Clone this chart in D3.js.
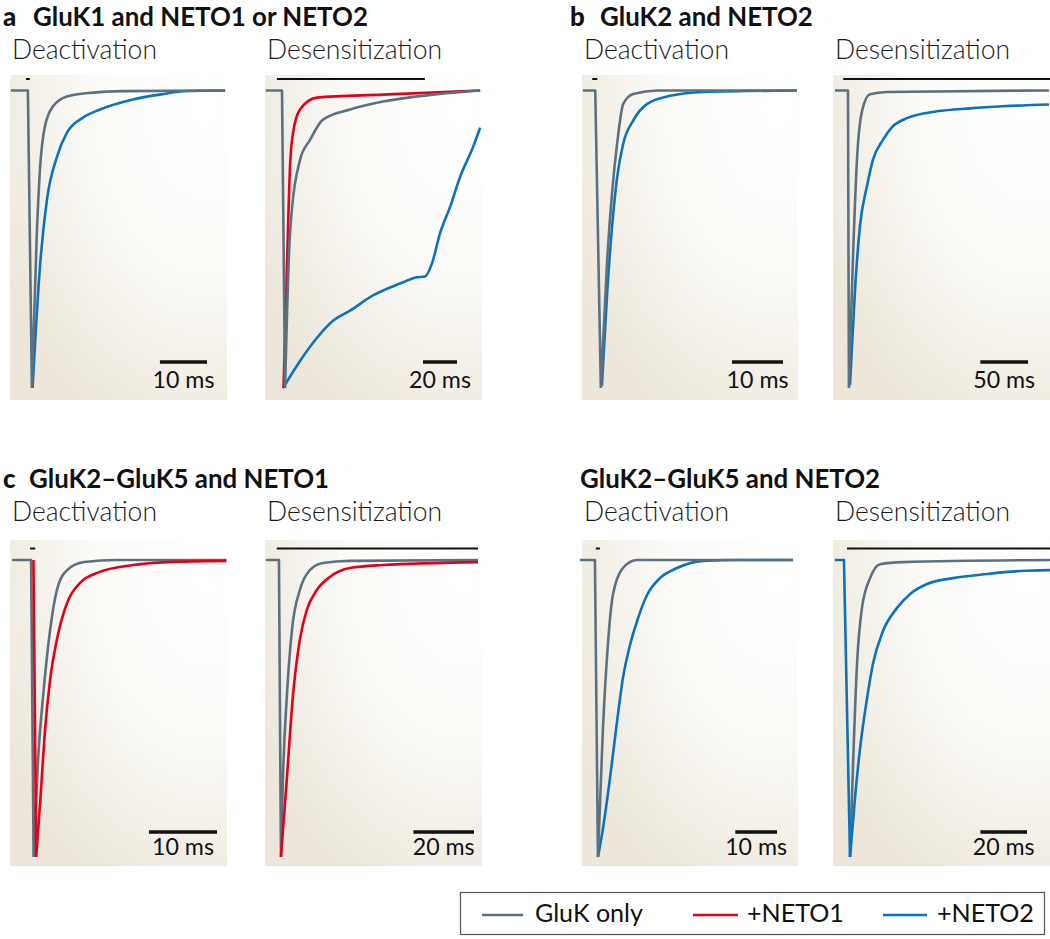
<!DOCTYPE html>
<html><head><meta charset="utf-8">
<script src="https://cdn.jsdelivr.net/npm/d3@7"></script>
<style>body{margin:0;background:#fff}svg{display:block}</style>
</head><body>
<svg id="chart" width="1050" height="939"></svg>
<script>
// ---------------- DATA ----------------
const panelLetters = ["a", "b", "c", ""];
const panelTitles = ["GluK1 and NETO1 or NETO2", "GluK2 and NETO2", "GluK2\u2013GluK5 and NETO1", "GluK2\u2013GluK5 and NETO2"];
const protocols = ["Deactivation", "Desensitization"];
const seriesNames = ["GluK only", "+NETO1", "+NETO2"];
const scaleBarMs = [10, 20, 10, 50, 10, 20, 10, 20];
const scaleBarLabels = ["10 ms", "20 ms", "10 ms", "50 ms", "10 ms", "20 ms", "10 ms", "20 ms"];
// visible time window of each trace panel (ms)
const timeWindows = [[-3.8, 42.3], [-10, 117.6], [-2.6, 39.8], [-15.7, 212], [-3.1, 28.8], [-4.6, 67], [-3.1, 48.7], [-4.7, 88.4]];
// glutamate application (ms)
const stimWindows = [[-0.4, 0.4], [-3, 84], [-0.6, 0.4], [-5, 212], [-0.15, 0.6], [-0.7, 65.7], [0.2, 1.2], [1.3, 88.4]];

// traces: [time (ms), current normalised to peak]
const aDeactGluK = [[-3.6,0],[0,0],[0.85,-1],[1.9,-0.48],[2.6,-0.257],[3.6,-0.122],[5.3,-0.054],[8.3,-0.02],[13.8,-0.007],[20,-0.002],[41.9,0]];
const aDeactNeto2 = [[1.0,-1],[2.55,-0.595],[4.04,-0.368],[6.17,-0.223],[8.3,-0.142],[11.7,-0.091],[15.3,-0.064],[22.3,-0.03],[29.6,-0.01],[33,-0.002],[41.9,0]];

const aDesensGluK = [[-9.5,0],[0,0],[1.8,-1],[4.7,-0.48],[10.6,-0.233],[16.5,-0.166],[24.1,-0.098],[40,-0.064],[59.4,-0.037],[88.8,-0.014],[116.5,0]];
const aDesensNeto1 = [[0.9,-1],[2.9,-0.595],[4.7,-0.257],[6.5,-0.142],[10.6,-0.064],[20.6,-0.024],[59.4,-0.014],[116.5,0]];
const aDesensNeto2 = [[0.6,-1],[10.6,-0.909],[20.6,-0.831],[30,-0.774],[40,-0.74],[53.5,-0.689],[69.4,-0.649],[79.4,-0.628],[84.1,-0.625],[88.2,-0.581],[92.9,-0.48],[98.8,-0.392],[104.7,-0.291],[112.4,-0.189],[116.5,-0.125]];

const bDeactGluK = [[-2.4,0],[0,0],[1.1,-1],[2.35,-0.567],[3.3,-0.344],[4.3,-0.178],[5.5,-0.045],[7.45,-0.012],[12.2,0],[39.6,0]];
const bDeactNeto2 = [[1.3,-0.993],[2.35,-0.677],[3.3,-0.458],[4.3,-0.291],[5.5,-0.178],[7.45,-0.101],[10.2,-0.045],[14.7,-0.018],[21.2,-0.005],[39.6,0]];

const bDesensGluK = [[-13.6,0],[0,0],[1,-1],[5.2,-0.568],[9.4,-0.236],[14.7,-0.07],[23,-0.013],[40.9,-0.005],[211,0]];
const bDesensNeto2 = [[2.1,-0.99],[7.3,-0.675],[12.6,-0.455],[19.9,-0.322],[26.2,-0.233],[36.7,-0.166],[46.2,-0.123],[61.9,-0.093],[93.4,-0.07],[128,-0.06],[162.6,-0.053],[211,-0.047]];

const cDeactGluK = [[-2.8,0],[0,0],[0.37,-1],[1.0,-0.681],[1.76,-0.46],[2.8,-0.235],[3.8,-0.101],[5.3,-0.034],[7.8,-0.007],[12.6,0],[28.7,0]];
const cDeactNeto1 = [[0.35,0],[0.75,-1],[1.4,-0.795],[2.06,-0.57],[2.8,-0.403],[3.8,-0.268],[5.3,-0.144],[7.2,-0.077],[10.1,-0.04],[15,-0.017],[20,-0.007],[28.7,-0.003]];

const cDesensGluK = [[-4.3,0],[0,0],[0.66,-1],[1.3,-0.738],[2.6,-0.46],[4.3,-0.235],[6.9,-0.101],[10.2,-0.034],[14.5,-0.01],[23.4,-0.003],[65.7,0]];
const cDesensNeto1 = [[0.66,-1],[2.6,-0.738],[4.6,-0.46],[6.9,-0.268],[9.2,-0.168],[12.5,-0.101],[16.8,-0.057],[23.4,-0.027],[34.3,-0.017],[65.7,-0.007]];

const dDeactGluK = [[-3.6,0],[0,0],[0.72,-1],[1.92,-0.568],[3.1,-0.287],[4.3,-0.118],[6.7,-0.027],[10.1,0],[47.5,0]];
const dDeactNeto2 = [[0.72,-1],[1.92,-0.905],[3.6,-0.736],[5.3,-0.544],[6.7,-0.399],[8.4,-0.287],[10.1,-0.206],[12.5,-0.118],[15.6,-0.061],[19.7,-0.027],[25.9,-0.003],[34.1,0],[47.5,0]];

const dDesensGluK = [[2.6,-1],[3.9,-0.689],[5.6,-0.351],[7.7,-0.162],[11.2,-0.061],[15.5,-0.014],[25.3,-0.007],[88.4,0]];
const dDesensNeto2 = [[-3.9,0],[0,0],[2.6,-1],[4.7,-0.804],[6.9,-0.635],[9.9,-0.466],[12.4,-0.351],[16.7,-0.24],[22.7,-0.162],[28.3,-0.115],[35.6,-0.081],[46.8,-0.061],[61.4,-0.047],[75.5,-0.037],[88.4,-0.034]];

// drawing order inside each panel (last is on top)
const panelTraces = [
  [["+NETO2", aDeactNeto2], ["GluK only", aDeactGluK]],
  [["+NETO2", aDesensNeto2], ["+NETO1", aDesensNeto1], ["GluK only", aDesensGluK]],
  [["+NETO2", bDeactNeto2], ["GluK only", bDeactGluK]],
  [["+NETO2", bDesensNeto2], ["GluK only", bDesensGluK]],
  [["GluK only", cDeactGluK], ["+NETO1", cDeactNeto1]],
  [["GluK only", cDesensGluK], ["+NETO1", cDesensNeto1]],
  [["+NETO2", dDeactNeto2], ["GluK only", dDeactGluK]],
  [["GluK only", dDesensGluK], ["+NETO2", dDesensNeto2]]
];

// ---------------- LAYOUT / STYLE ----------------
const colors = {"GluK only": "#5c7180", "+NETO1": "#e2001a", "+NETO2": "#0b72bb"};
const colX0 = [10, 265, 582, 833], colX1 = [227, 482, 798, 1050];
const rowBoxY0 = [75, 540], rowBoxY1 = [400, 866];
const rowBase = [90.5, 560], rowPeak = [388, 857];
const rowStimY = [79, 548.5];
const rowBarY = [362, 832], rowBarTextY = [388, 855];
const barRight = [207, 457, 783, 1028, 217, 474, 777, 1027];
const titleLayout = [{lx: 3, tx: 33, y: 26}, {lx: 570, tx: 600, y: 26}, {lx: 3, tx: 29, y: 488}, {lx: 580, tx: 580, y: 488}];
const protoY = [59, 521];

const svg = d3.select("#chart");
const defs = svg.append("defs");
const grad = defs.append("radialGradient").attr("id", "bg")
  .attr("cx", 0.9).attr("cy", 0.1).attr("r", 1.05);
grad.append("stop").attr("offset", 0).attr("stop-color", "#ffffff");
grad.append("stop").attr("offset", 0.5).attr("stop-color", "#fbfaf7");
grad.append("stop").attr("offset", 1).attr("stop-color", "#ece7da");

const FONT = "Lato, 'Open Sans', 'DejaVu Sans', sans-serif";

function fitSize(text, weight, target, base) {
  const t = svg.append("text").attr("font-family", FONT).attr("font-weight", weight)
    .attr("font-size", base).text(text);
  const w = t.node().getComputedTextLength();
  t.remove();
  return base * target / w;
}
const titleSize = fitSize(panelTitles[0], 700, 335, 22);
const protoSize = fitSize(protocols[0], 300, 145, 22);
const barSize = fitSize(scaleBarLabels[0], 400, 62, 20);
const legSize = fitSize(seriesNames[0], 400, 108, 20);

// titles
panelTitles.forEach((t, i) => {
  const L = titleLayout[i];
  if (panelLetters[i]) {
    svg.append("text").attr("x", L.lx).attr("y", L.y).attr("font-family", FONT)
      .attr("font-weight", 900).attr("font-size", titleSize).attr("fill", "#111").text(panelLetters[i]);
  }
  svg.append("text").attr("x", L.tx).attr("y", L.y).attr("font-family", FONT)
    .attr("font-weight", 700).attr("font-size", titleSize).attr("fill", "#111").text(t);
});

const lineLin = d3.line().x(d => d[0]).y(d => d[1]).curve(d3.curveLinear);
const lineMono = d3.line().x(d => d[0]).y(d => d[1]).curve(d3.curveMonotoneX);

panelTraces.forEach((traces, p) => {
  const row = p < 4 ? 0 : 1;
  const col = p % 4;
  const x = d3.scaleLinear().domain(timeWindows[p]).range([colX0[col], colX1[col]]);
  const y = d3.scaleLinear().domain([-1, 0]).range([rowPeak[row], rowBase[row]]);
  const g = svg.append("g");

  g.append("rect").attr("x", colX0[col]).attr("y", rowBoxY0[row])
    .attr("width", colX1[col] - colX0[col]).attr("height", rowBoxY1[row] - rowBoxY0[row])
    .attr("fill", "url(#bg)");

  // protocol label
  svg.append("text").attr("x", colX0[col] + 2).attr("y", protoY[row])
    .attr("font-family", FONT).attr("font-weight", 300).attr("font-size", protoSize)
    .attr("fill", "#1a1a1a").text(protocols[col % 2]);

  // stimulus bar
  const s = stimWindows[p];
  const sx0 = x(s[0]), sx1 = Math.min(x(s[1]), colX1[col]);
  g.append("line").attr("x1", sx0).attr("x2", sx1).attr("y1", rowStimY[row]).attr("y2", rowStimY[row])
    .attr("stroke", "#111").attr("stroke-width", 2);

  // traces
  traces.forEach(([name, data]) => {
    const pts = data.map(d => [x(d[0]), y(d[1])]);
    let k = 0;
    data.forEach((d, i) => { if (d[1] < data[k][1]) k = i; });
    let path = "";
    if (k > 0) path += lineLin(pts.slice(0, k + 1));
    path += lineMono(pts.slice(k));
    g.append("path").attr("d", path).attr("fill", "none")
      .attr("stroke", colors[name]).attr("stroke-width", 2.6)
      .attr("stroke-linejoin", "round").attr("stroke-linecap", "butt");
  });

  // scale bar
  const w = Math.abs(x(scaleBarMs[p]) - x(0));
  const bx1 = barRight[p], bx0 = bx1 - w;
  g.append("line").attr("x1", bx0).attr("x2", bx1).attr("y1", rowBarY[row]).attr("y2", rowBarY[row])
    .attr("stroke", "#111").attr("stroke-width", 3.5);
  g.append("text").attr("x", (bx0 + bx1) / 2).attr("y", rowBarTextY[row]).attr("text-anchor", "middle")
    .attr("font-family", FONT).attr("font-weight", 400).attr("font-size", barSize)
    .attr("fill", "#111").text(scaleBarLabels[p]);
});

// legend
const leg = svg.append("g");
leg.append("rect").attr("x", 460.5).attr("y", 892.5).attr("width", 584).attr("height", 42)
  .attr("fill", "#fff").attr("stroke", "#555").attr("stroke-width", 1.2);
const legLayout = [{l0: 482, l1: 523, tx: 535}, {l0: 693, l1: 738, tx: 747}, {l0: 883, l1: 927, tx: 937}];
seriesNames.forEach((n, i) => {
  const L = legLayout[i];
  leg.append("line").attr("x1", L.l0).attr("x2", L.l1).attr("y1", 915).attr("y2", 915)
    .attr("stroke", colors[n]).attr("stroke-width", 2.6);
  leg.append("text").attr("x", L.tx).attr("y", 922).attr("font-family", FONT).attr("font-weight", 400)
    .attr("font-size", legSize).attr("fill", "#111").text(n);
});
</script>
</body></html>
